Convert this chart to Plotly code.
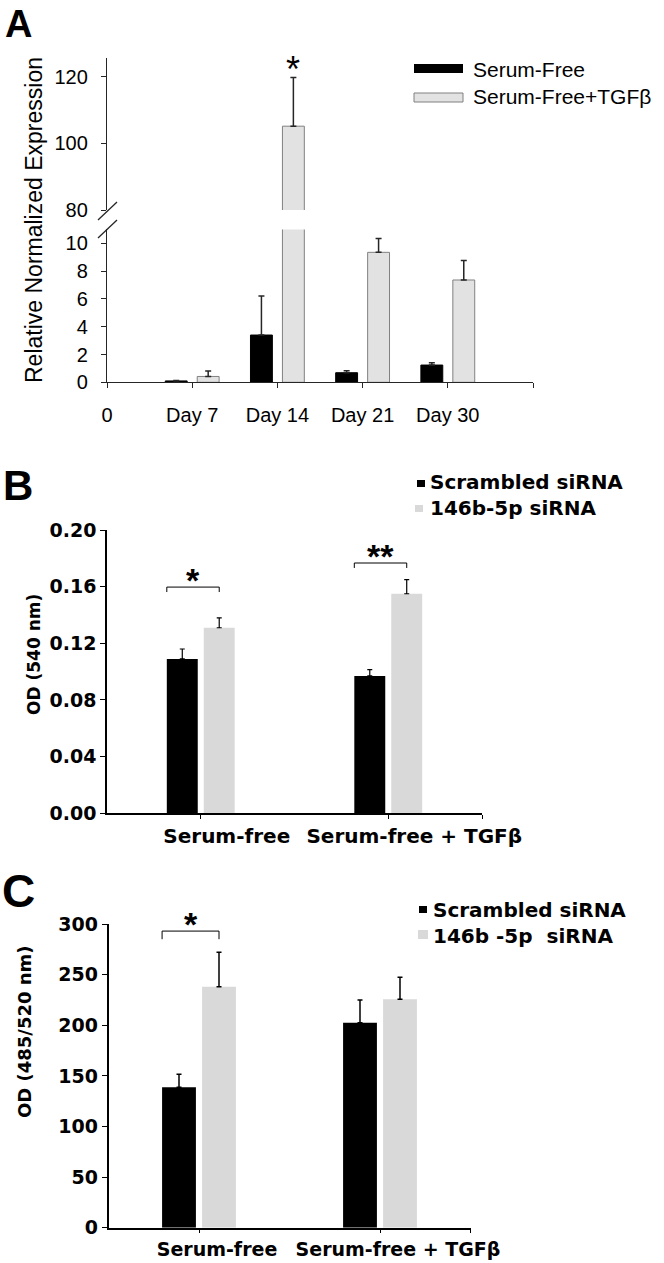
import plotly.graph_objects as go

W, H = 664, 1263
FONT = "Liberation Sans, Arial, sans-serif"
FONT_WIDE = "DejaVu Sans, Verdana, sans-serif"
BLACK = "#000000"
AXIS_A = "#262626"
GREY_A = "#e2e2e2"
GREY_A_EDGE = "#808080"
GREY = "#d9d9d9"

# ---- Panel A: relative normalized expression over time
a_ticktext = ["0", "Day 7", "Day 14", "Day 21", "Day 30", ""]
a_pos = [1, 2, 3, 4]
a_sf = [0.1, 3.4, 0.69, 1.24]
a_sf_err = [0.03, 2.8, 0.14, 0.17]
a_tgf = [0.42, 105.2, 9.35, 7.36]
a_tgf_err = [0.4, 14.6, 1.0, 1.4]
a_lower_ticks = [0, 2, 4, 6, 8, 10]
a_upper_ticks = [80, 100, 120]
a_series = ["Serum-Free", "Serum-Free+TGF\u03b2"]

# ---- Panel B: OD 540 nm
b_groups = ["Serum-free", "Serum-free + TGF\u03b2"]
b_scr = [0.109, 0.097]
b_scr_err = [0.007, 0.0045]
b_146 = [0.131, 0.155]
b_146_err = [0.007, 0.010]
b_ticks = [0.0, 0.04, 0.08, 0.12, 0.16, 0.20]
b_sig = ["*", "**"]
b_bracket_y = [0.1597, 0.1767]
b_series = ["Scrambled siRNA", "146b-5p siRNA"]

# ---- Panel C: OD 485/520 nm
c_groups = ["Serum-free", "Serum-free + TGF\u03b2"]
c_scr = [138.7, 202.5]
c_scr_err = [12.8, 22.4]
c_146 = [238.0, 225.6]
c_146_err = [34.0, 21.7]
c_ticks = [0, 50, 100, 150, 200, 250, 300]
c_sig = ["*", ""]
c_bracket_y = [293, None]
c_series = ["Scrambled siRNA", "146b -5p\u00a0 siRNA"]


def px(x):
    return x / W


def py(y):
    return 1 - y / H


def err(vals):
    return dict(type="data", array=vals, arrayminus=[0] * len(vals), symmetric=False)


fig = go.Figure()

# Panel A bars, drawn on both halves of the broken axis
for yax in ("y", "y2"):
    fig.add_trace(go.Bar(
        x=a_pos, y=a_sf, xaxis="x", yaxis=yax, width=0.257, offset=-0.316,
        marker=dict(color=BLACK, line=dict(color=BLACK, width=1)),
        error_y={**err(a_sf_err), "color": AXIS_A, "thickness": 1.5, "width": 3},
    ))
    fig.add_trace(go.Bar(
        x=a_pos, y=a_tgf, xaxis="x", yaxis=yax, width=0.257, offset=0.059,
        marker=dict(color=GREY_A, line=dict(color=GREY_A_EDGE, width=1)),
        error_y={**err(a_tgf_err), "color": AXIS_A, "thickness": 1.5, "width": 3},
    ))

# Panel B bars
fig.add_trace(go.Bar(
    x=[0, 1], y=b_scr, xaxis="x2", yaxis="y3", width=0.165, offset=-0.181,
    marker=dict(color=BLACK, line=dict(width=0)),
    error_y={**err(b_scr_err), "color": BLACK, "thickness": 1.2, "width": 2.5},
))
fig.add_trace(go.Bar(
    x=[0, 1], y=b_146, xaxis="x2", yaxis="y3", width=0.165, offset=0.016,
    marker=dict(color=GREY, line=dict(width=0)),
    error_y={**err(b_146_err), "color": BLACK, "thickness": 1.2, "width": 2.5},
))

# Panel C bars
fig.add_trace(go.Bar(
    x=[0, 1], y=c_scr, xaxis="x3", yaxis="y4", width=0.187, offset=-0.204,
    marker=dict(color=BLACK, line=dict(width=0)),
    error_y={**err(c_scr_err), "color": BLACK, "thickness": 1.5, "width": 2.5},
))
fig.add_trace(go.Bar(
    x=[0, 1], y=c_146, xaxis="x3", yaxis="y4", width=0.187, offset=0.017,
    marker=dict(color=GREY, line=dict(width=0)),
    error_y={**err(c_146_err), "color": BLACK, "thickness": 1.5, "width": 2.5},
))

font_a = dict(family=FONT, size=20, color=BLACK)
font_bc = dict(family=FONT_WIDE, size=19, color=BLACK, weight="bold")
font_bc_x = dict(family=FONT_WIDE, size=20, color=BLACK, weight="bold")
font_c_x = dict(family=FONT_WIDE, size=19, color=BLACK, weight="bold")

common = dict(showgrid=False, zeroline=False, showline=True, ticks="outside",
              automargin=False, tickangle=0)

fig.update_layout(
    width=W, height=H, autosize=False,
    margin=dict(l=0, r=0, t=0, b=0),
    paper_bgcolor="white", plot_bgcolor="white",
    showlegend=False, barmode="overlay",
    font=dict(family=FONT, color=BLACK),
    # panel A
    xaxis=dict(**common, domain=[px(107), px(533)], range=[0, 5], anchor="y",
               tickvals=list(range(6)), ticktext=a_ticktext, ticklen=5,
               linecolor=AXIS_A, tickcolor=AXIS_A, linewidth=1.3,
               tickfont=font_a, ticklabelstandoff=10),
    yaxis=dict(**common, domain=[py(382.3), py(229.4)], range=[0, 11], anchor="x",
               tickvals=a_lower_ticks, ticklen=5, linecolor=AXIS_A, tickcolor=AXIS_A,
               linewidth=1.3, tickfont=font_a, ticklabelstandoff=9),
    yaxis2=dict(**common, domain=[py(210), py(58)], range=[80, 125.7], anchor="x",
                tickvals=a_upper_ticks, ticklen=5, linecolor=AXIS_A, tickcolor=AXIS_A,
                linewidth=1.3, tickfont=font_a, ticklabelstandoff=9),
    # panel B
    xaxis2=dict(**common, domain=[px(107), px(482)], range=[-0.5, 1.5], anchor="y3",
                tickvals=[0, 1, 1.5], ticktext=b_groups + [""], ticklen=4,
                linecolor=BLACK, tickcolor=BLACK, linewidth=1.5,
                tickfont=font_bc_x, ticklabelshift=26),
    yaxis3=dict(**common, domain=[py(813.3), py(530)], range=[0, 0.2], anchor="x2",
                tickvals=b_ticks, tickformat=".2f", ticklen=5,
                linecolor=BLACK, tickcolor=BLACK, linewidth=1.5, tickfont=font_bc),
    # panel C
    xaxis3=dict(**common, domain=[px(108.5), px(470.5)], range=[-0.5, 1.5], anchor="y4",
                tickvals=[0, 1, 1.5], ticktext=c_groups + [""], ticklen=4,
                linecolor=BLACK, tickcolor=BLACK, linewidth=1.5,
                tickfont=font_c_x, ticklabelshift=18, ticklabelstandoff=0),
    yaxis4=dict(**common, domain=[py(1227.7), py(924)], range=[0, 300], anchor="x3",
                tickvals=c_ticks, ticklen=5,
                linecolor=BLACK, tickcolor=BLACK, linewidth=1.5, tickfont=font_bc),
)

shapes = []
ann = []

# axis break marks on panel A
for y0 in (220, 238):
    shapes.append(dict(type="line", xref="paper", yref="paper",
                       x0=px(98), y0=py(y0), x1=px(117), y1=py(y0 - 18),
                       line=dict(color=AXIS_A, width=1.3)))

# significance on panel A
ann.append(dict(x=2 + 0.059 + 0.257 / 2, y=a_tgf[1] + a_tgf_err[1], xref="x", yref="y2",
                text="*", showarrow=False, yanchor="bottom", yshift=-14,
                font=dict(family=FONT, size=36, color=BLACK)))

# significance brackets on B and C
for i, (sig, yb) in enumerate(zip(b_sig, b_bracket_y)):
    x0, x1 = i - 0.181, i + 0.016 + 0.165 / 2
    leg = yb - 0.0035
    shapes.append(dict(type="path", xref="x2", yref="y3",
                       path=f"M{x0},{leg} L{x0},{yb} L{x1},{yb} L{x1},{leg}",
                       line=dict(color=BLACK, width=1)))
    ann.append(dict(x=(x0 + x1) / 2, y=yb, xref="x2", yref="y3", text=sig,
                    showarrow=False, yanchor="bottom", yshift=-14,
                    font=dict(family=FONT, size=34, color=BLACK, weight="bold")))
for i, (sig, yb) in enumerate(zip(c_sig, c_bracket_y)):
    if not sig:
        continue
    x0, x1 = i - 0.204, i + 0.017 + 0.187 / 2
    leg = yb - 8
    shapes.append(dict(type="path", xref="x3", yref="y4",
                       path=f"M{x0},{leg} L{x0},{yb} L{x1},{yb} L{x1},{leg}",
                       line=dict(color=BLACK, width=1)))
    ann.append(dict(x=(x0 + x1) / 2, y=yb, xref="x3", yref="y4", text=sig,
                    showarrow=False, yanchor="bottom", yshift=-14,
                    font=dict(family=FONT, size=34, color=BLACK, weight="bold")))


def swatch(x0, y0, x1, y1, fill, edge=None):
    shapes.append(dict(type="rect", xref="paper", yref="paper",
                       x0=px(x0), x1=px(x1), y0=py(y1), y1=py(y0),
                       fillcolor=fill, line=dict(color=edge or fill, width=1 if edge else 0)))


def label(x, y, text, font, xanchor="left", angle=0):
    ann.append(dict(x=px(x), y=py(y), xref="paper", yref="paper", text=text,
                    showarrow=False, xanchor=xanchor, yanchor="middle", align="left",
                    textangle=angle, font=font))


# legends (one block of text per panel)
swatch(414, 64, 463, 73, BLACK)
swatch(414, 93, 463, 102, GREY_A, GREY_A_EDGE)
label(471, 83, "<br>".join(a_series), dict(family=FONT, size=21, color=BLACK))

leg_font = dict(family=FONT_WIDE, size=20, color=BLACK, weight="bold")
swatch(417, 480, 425, 487, BLACK)
swatch(415, 505, 423, 512, GREY)
label(428, 495, "<br>".join(b_series), leg_font)

swatch(419, 906, 427, 913, BLACK)
swatch(418, 930, 428, 939, GREY)
label(431, 922.5, "<br>".join(c_series), leg_font)

# axis titles
label(34, 220, "Relative Normalized Expression", dict(family=FONT, size=23, color=BLACK),
      xanchor="center", angle=-90)
label(34, 655, "OD (540 nm)", dict(family=FONT_WIDE, size=17, color=BLACK, weight="bold"),
      xanchor="center", angle=-90)
label(24, 1032, "OD (485/520 nm)", dict(family=FONT_WIDE, size=18, color=BLACK, weight="bold"),
      xanchor="center", angle=-90)

# panel letters
label(18, 24, "A", dict(family=FONT, size=38, color=BLACK, weight="bold"), xanchor="center")
label(18, 486, "B", dict(family=FONT, size=42, color=BLACK, weight="bold"), xanchor="center")
label(18, 891, "C", dict(family=FONT, size=46, color=BLACK, weight="bold"), xanchor="center")

fig.update_layout(shapes=shapes, annotations=ann)
fig.write_html("out.html", config={"displayModeBar": False},
               post_script="document.body.style.margin='0';")
